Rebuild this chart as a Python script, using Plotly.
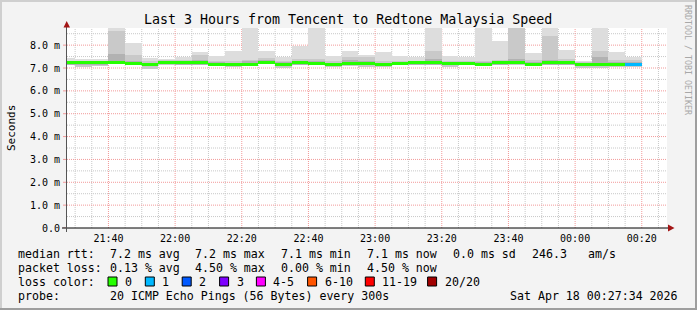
import plotly.graph_objects as go
import pandas as pd

# ---------------- data ----------------
bar_start = [
    "2026-04-17 21:25", "2026-04-17 21:30", "2026-04-17 21:35", "2026-04-17 21:40",
    "2026-04-17 21:45", "2026-04-17 21:50", "2026-04-17 21:55", "2026-04-17 22:00",
    "2026-04-17 22:05", "2026-04-17 22:10", "2026-04-17 22:15", "2026-04-17 22:20",
    "2026-04-17 22:25", "2026-04-17 22:30", "2026-04-17 22:35", "2026-04-17 22:40",
    "2026-04-17 22:45", "2026-04-17 22:50", "2026-04-17 22:55", "2026-04-17 23:00",
    "2026-04-17 23:05", "2026-04-17 23:10", "2026-04-17 23:15", "2026-04-17 23:20",
    "2026-04-17 23:25", "2026-04-17 23:30", "2026-04-17 23:35", "2026-04-17 23:40",
    "2026-04-17 23:45", "2026-04-17 23:50", "2026-04-17 23:55", "2026-04-18 00:00",
    "2026-04-18 00:05", "2026-04-18 00:10", "2026-04-18 00:15",
]
# smoke: max ping (hi), medium band top (mid), dark band top (dark), min ping (lo), median (ms)
smoke_hi = [7.45, 7.38, 7.38, 9.00, 8.09, 7.45, 7.41, 7.49, 7.70, 7.52, 7.74, 9.00,
            7.74, 7.49, 7.97, 9.00, 7.54, 7.76, 7.57, 7.70, 7.52, 7.47, 9.00, 7.54,
            7.49, 9.00, 8.19, 9.00, 7.65, 9.00, 7.78, 7.32, 9.00, 7.70, 7.49]
smoke_mid = [7.32, 7.30, 7.30, 8.60, 7.55, 7.30, 7.33, 7.35, 7.55, 7.30, 7.30, 7.36,
             7.45, 7.30, 7.40, 7.40, 7.30, 7.50, 7.50, 7.30, 7.30, 7.30, 7.76, 7.30,
             7.30, 7.30, 7.35, 9.00, 7.35, 8.39, 7.40, 7.25, 7.76, 7.35, 7.35]
smoke_dark = [7.27, 7.27, 7.27, 7.60, 7.30, 7.22, 7.28, 7.28, 7.33, 7.25, 7.24, 7.30,
              7.33, 7.25, 7.30, 7.30, 7.24, 7.35, 7.30, 7.23, 7.25, 7.27, 7.40, 7.26,
              7.26, 7.25, 7.30, 7.40, 7.27, 7.35, 7.30, 7.22, 7.47, 7.28, 7.28]
smoke_lo = [7.12, 7.06, 7.10, 7.16, 7.14, 6.97, 7.14, 7.16, 7.14, 7.09, 7.03, 7.09,
            7.16, 7.01, 7.12, 7.12, 7.03, 7.07, 7.06, 7.06, 7.12, 7.13, 7.13, 7.06,
            7.14, 7.09, 7.14, 7.14, 7.12, 7.14, 7.14, 7.00, 7.00, 7.06, 7.06]
median_rtt = [7.22, 7.22, 7.22, 7.25, 7.20, 7.16, 7.25, 7.23, 7.22, 7.17, 7.16, 7.17,
              7.26, 7.17, 7.22, 7.20, 7.16, 7.19, 7.20, 7.15, 7.19, 7.22, 7.22, 7.20,
              7.20, 7.17, 7.22, 7.26, 7.17, 7.22, 7.22, 7.17, 7.17, 7.16, 7.16]
lost_pings = [0, 0, 0, 0, 0, 0, 0, 0, 0, 0, 0, 0, 0, 0, 0, 0, 0, 0, 0, 0,
              0, 0, 0, 0, 0, 0, 0, 0, 0, 0, 0, 0, 0, 0, 1]

loss_labels = ["0", "1", "2", "3", "4-5", "6-10", "11-19", "20/20"]
loss_colors = ["#26ff00", "#00b8ff", "#0059ff", "#7e00ff", "#ff00ff", "#ff5500", "#ff0000", "#a10000"]

x_tickvals = ["2026-04-17 21:40", "2026-04-17 22:00", "2026-04-17 22:20", "2026-04-17 22:40",
              "2026-04-17 23:00", "2026-04-17 23:20", "2026-04-17 23:40", "2026-04-18 00:00",
              "2026-04-18 00:20"]
x_ticktext = ["21:40", "22:00", "22:20", "22:40", "23:00", "23:20", "23:40", "00:00", "00:20"]
x_minor_grid = [
    "2026-04-17 21:30", "2026-04-17 21:35", "2026-04-17 21:45", "2026-04-17 21:50",
    "2026-04-17 21:55", "2026-04-17 22:05", "2026-04-17 22:10", "2026-04-17 22:15",
    "2026-04-17 22:25", "2026-04-17 22:30", "2026-04-17 22:35", "2026-04-17 22:45",
    "2026-04-17 22:50", "2026-04-17 22:55", "2026-04-17 23:05", "2026-04-17 23:10",
    "2026-04-17 23:15", "2026-04-17 23:25", "2026-04-17 23:30", "2026-04-17 23:35",
    "2026-04-17 23:45", "2026-04-17 23:50", "2026-04-17 23:55", "2026-04-18 00:05",
    "2026-04-18 00:10", "2026-04-18 00:15", "2026-04-18 00:25",
]
y_tickvals = [0, 1, 2, 3, 4, 5, 6, 7, 8]
y_ticktext = ["0.0", "1.0 m", "2.0 m", "3.0 m", "4.0 m", "5.0 m", "6.0 m", "7.0 m", "8.0 m"]
y_minor_grid = [0.5, 1.5, 2.5, 3.5, 4.5, 5.5, 6.5, 7.5, 8.5]

title_text = "Last 3 Hours from Tencent to Redtone Malaysia Speed"
range_start = "2026-04-17 21:27:34"
range_end = "2026-04-18 00:27:34"

# ---------------- helpers ----------------
W, H = 697, 310
L, T, PW, PH = 67, 28, 600, 200
MONO = "DejaVu Sans Mono"
GRID_RED = "#f29a9a"
GRID_GRAY = "#c8c8c8"
DOT = "1px,1px"


def fx(x):
    return (x - L) / PW


def fy(y):
    return (T + PH - y) / PH


def loss_color(n):
    if n <= 3:
        return loss_colors[n]
    if n <= 5:
        return loss_colors[4]
    if n <= 10:
        return loss_colors[5]
    if n <= 19:
        return loss_colors[6]
    return loss_colors[7]


centers = pd.to_datetime(pd.Series(bar_start)) + pd.Timedelta(seconds=150)
BW = 300000  # bar width, ms

fig = go.Figure()


def band(base, top, color):
    fig.add_trace(go.Bar(
        x=centers, y=[t - b for b, t in zip(base, top)], base=base, width=BW,
        marker=dict(color=color, line=dict(width=0)), showlegend=False, hoverinfo="skip"))


band(smoke_lo, smoke_hi, "#dddddd")
band(smoke_lo, smoke_mid, "#c9c9c9")
band([m - 0.08 for m in median_rtt], smoke_dark, "#b2b2b2")

MT = 0.13
fig.add_trace(go.Bar(
    x=centers, y=[MT] * len(median_rtt), base=[m - MT / 2 for m in median_rtt], width=BW,
    marker=dict(color=[loss_color(n) for n in lost_pings], line=dict(width=0)),
    showlegend=False, hoverinfo="skip"))

fig.update_layout(
    width=W, height=H,
    margin=dict(l=L, r=W - L - PW, t=T, b=H - T - PH, pad=0),
    paper_bgcolor="#f3f3f3", plot_bgcolor="#ffffff",
    barmode="overlay", bargap=0,
    font=dict(family=MONO, size=10, color="#000000"),
    xaxis=dict(
        type="date", range=[range_start, range_end],
        tickmode="array", tickvals=x_tickvals, ticktext=x_ticktext,
        showgrid=False, showline=False, zeroline=False, ticks="", ticklabelstandoff=3,
        tickfont=dict(family=MONO, size=10),
    ),
    yaxis=dict(
        range=[0, 8.75], tickmode="array", tickvals=y_tickvals, ticktext=y_ticktext,
        showgrid=False, showline=False, zeroline=False, ticks="", ticklabelstandoff=6,
        tickfont=dict(family=MONO, size=10),
    ),
)

shapes = []
# grid (below the smoke)
for t in x_minor_grid:
    shapes.append(dict(type="line", xref="x", yref="paper", x0=t, x1=t, y0=0, y1=1,
                       layer="below", line=dict(color=GRID_GRAY, width=1, dash=DOT)))
for v in y_minor_grid:
    shapes.append(dict(type="line", xref="paper", yref="y", x0=0, x1=1, y0=v, y1=v,
                       layer="below", line=dict(color=GRID_GRAY, width=1, dash=DOT)))
for t in x_tickvals:
    shapes.append(dict(type="line", xref="x", yref="paper", x0=t, x1=t, y0=0, y1=1,
                       layer="below", line=dict(color=GRID_RED, width=1, dash=DOT)))
for v in y_tickvals[1:]:
    shapes.append(dict(type="line", xref="paper", yref="y", x0=0, x1=1, y0=v, y1=v,
                       layer="below", line=dict(color=GRID_RED, width=1, dash=DOT)))
# small ticks left of y axis at major values
for v in y_tickvals:
    shapes.append(dict(type="line", xref="paper", yref="y", x0=fx(63), x1=fx(66), y0=v, y1=v,
                       line=dict(color=GRID_RED, width=1)))
# axes
shapes.append(dict(type="line", xref="paper", yref="paper", x0=fx(62), x1=fx(670),
                   y0=fy(228), y1=fy(228), line=dict(color="#000000", width=1)))
shapes.append(dict(type="line", xref="paper", yref="paper", x0=fx(66.5), x1=fx(66.5),
                   y0=fy(232), y1=fy(25), line=dict(color="#555555", width=1)))
# arrows
shapes.append(dict(type="path", xref="paper", yref="paper",
                   path=f"M {fx(63.5)} {fy(27.5)} L {fx(70)} {fy(27.5)} L {fx(66.7)} {fy(21)} Z",
                   fillcolor="#a31515", line=dict(width=0)))
shapes.append(dict(type="path", xref="paper", yref="paper",
                   path=f"M {fx(668)} {fy(224.5)} L {fx(668)} {fy(231.5)} L {fx(674.5)} {fy(228)} Z",
                   fillcolor="#a31515", line=dict(width=0)))
# image border (3d shade)
shapes.append(dict(type="rect", xref="paper", yref="paper", x0=fx(0), x1=fx(2), y0=fy(H), y1=fy(0),
                   fillcolor="#cfcfcf", line=dict(width=0)))
shapes.append(dict(type="rect", xref="paper", yref="paper", x0=fx(0), x1=fx(W), y0=fy(2), y1=fy(0),
                   fillcolor="#cfcfcf", line=dict(width=0)))
shapes.append(dict(type="rect", xref="paper", yref="paper", x0=fx(W - 2), x1=fx(W), y0=fy(H), y1=fy(0),
                   fillcolor="#9e9e9e", line=dict(width=0)))
shapes.append(dict(type="rect", xref="paper", yref="paper", x0=fx(0), x1=fx(W), y0=fy(H), y1=fy(H - 2),
                   fillcolor="#9e9e9e", line=dict(width=0)))

ann = []


def text(x, y, s, size=11.6, anchor="left", color="#000000", angle=0):
    ann.append(dict(x=fx(x), y=fy(y), xref="paper", yref="paper", text=s, showarrow=False,
                    xanchor=anchor, yanchor="middle", textangle=angle,
                    font=dict(family=MONO, size=size, color=color)))


text(348, 19, title_text, size=13.3, anchor="center")
text(11, 128, "Seconds", size=11, anchor="center", angle=-90)
text(688, 60, "RRDTOOL / TOBI OETIKER", size=8.3, anchor="center", color="#a8a8a8", angle=90)

# legend lines
text(16, 254, "median rtt:")
for x, s in [(107.6, "7.2 ms avg"), (192.9, "7.2 ms max"), (279.1, "7.1 ms min"),
             (364.9, "7.1 ms now"), (451.1, "0.0 ms sd"), (530.2, "246.3"), (585.8, "am/s")]:
    text(x, 254, s)
text(16, 268, "packet loss:")
for x, s in [(107.6, "0.13 % avg"), (192.9, "4.50 % max"), (279.1, "0.00 % min"),
             (364.9, "4.50 % now")]:
    text(x, 268, s)
text(16, 282, "loss color:")
box_x = [108, 145.3, 182.2, 219.6, 256.4, 307.6, 365.3, 427.6]
for bx, lab, col in zip(box_x, loss_labels, loss_colors):
    shapes.append(dict(type="rect", xref="paper", yref="paper", x0=fx(bx), x1=fx(bx + 9),
                       y0=fy(286), y1=fy(277), fillcolor=col, line=dict(color="#000000", width=1)))
    text(bx + 15, 282, lab)
text(16, 296, "probe:")
text(107.6, 296, "20 ICMP Echo Pings (56 Bytes) every 300s")
text(680, 296, "Sat Apr 18 00:27:34 2026", anchor="right")

fig.update_layout(shapes=shapes, annotations=ann)
fig.write_html("out.html")
